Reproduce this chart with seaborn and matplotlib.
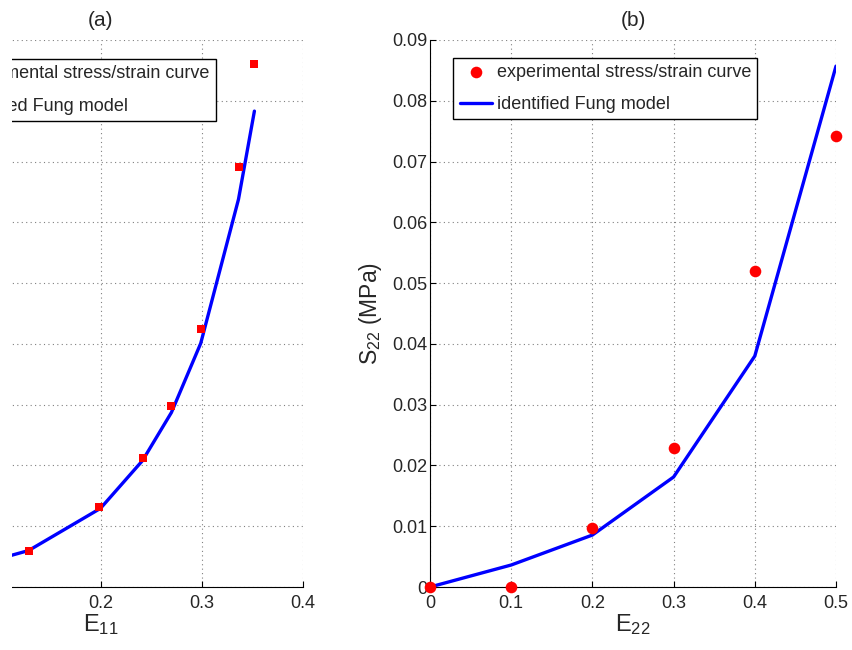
import matplotlib
matplotlib.use('Agg')
import matplotlib.pyplot as plt
import seaborn as sns
import pandas as pd
import numpy as np
from matplotlib.patches import Rectangle

sns.set_theme(style='white')
plt.rcParams['font.family'] = ['Liberation Sans', 'DejaVu Sans']
plt.rcParams['mathtext.fontset'] = 'custom'
plt.rcParams['mathtext.rm'] = 'Liberation Sans'
plt.rcParams['xtick.direction'] = 'in'
plt.rcParams['ytick.direction'] = 'in'

# (a) E11 / S11
e11_exp = [0.0, 0.129, 0.199, 0.2417, 0.270, 0.299, 0.3363, 0.352]
s11_exp = [0.0, 0.0060, 0.0131, 0.0212, 0.0298, 0.0424, 0.0691, 0.0860]
e11_fit = [0.0, 0.129, 0.200, 0.2415, 0.270, 0.299, 0.3363, 0.352]
s11_fit = [0.0, 0.0060, 0.01294, 0.0208, 0.0287, 0.0401, 0.0638, 0.0783]

# (b) E22 / S22
e22_exp = [0.0, 0.1, 0.2, 0.3, 0.4, 0.5]
s22_exp = [0.0, 0.0, 0.00975, 0.02286, 0.0520, 0.0742]
e22_fit = [0.0, 0.1, 0.2, 0.3, 0.4, 0.5]
s22_fit = [0.0, 0.00362, 0.00855, 0.0181, 0.0380, 0.0857]

lab_exp = 'experimental stress/strain curve'
lab_fit = 'identified Fung model'

fig = plt.figure(figsize=(8.53, 6.5), dpi=100)
ax1 = fig.add_axes([-102/853, 63/650, 405/853, 547/650])
ax2 = fig.add_axes([430/853, 63/650, 406/853, 547/650])


def style(ax, xmax, xticks):
    ax.set_xlim(0, xmax)
    ax.set_ylim(0, 0.09)
    ax.set_xticks(xticks)
    ax.set_xticklabels(['0' if t == 0 else f'{t:g}' for t in xticks])
    yt = np.round(np.arange(0, 0.091, 0.01), 2)
    ax.set_yticks(yt)
    ax.set_yticklabels(['0' if t == 0 else f'{t:g}' for t in yt])
    ax.grid(True, linestyle=(0, (1, 3)), color='#808080', linewidth=0.8)
    for s in ['top', 'right']:
        ax.spines[s].set_visible(False)
    for s in ['left', 'bottom']:
        ax.spines[s].set_color('black')
        ax.spines[s].set_linewidth(0.8)
    ax.tick_params(labelsize=13, length=4, width=0.8, color='black',
                   bottom=True, left=True)
    ax.tick_params(axis='x', pad=6)
    ax.tick_params(axis='y', pad=2)


sns.lineplot(x=e11_fit, y=s11_fit, ax=ax1, color='#0000ff', lw=2.4,
             label=lab_fit, sort=False, zorder=3)
sns.scatterplot(x=e11_exp, y=s11_exp, ax=ax1, color='#ff0000', marker='s',
                s=40, linewidth=0, label=lab_exp, zorder=4)
style(ax1, 0.4, [0, 0.1, 0.2, 0.3, 0.4])
ax1.set_title('(a)', fontsize=15, pad=10)
ax1.set_xlabel(r'$\mathregular{E_{11}}$', fontsize=17, labelpad=0)
ax1.set_ylabel(r'$\mathregular{S_{11}}$ (MPa)', fontsize=16.5)

sns.lineplot(x=e22_fit, y=s22_fit, ax=ax2, color='#0000ff', lw=2.4,
             label=lab_fit, sort=False, zorder=3)
sns.scatterplot(x=e22_exp, y=s22_exp, ax=ax2, color='#ff0000', marker='o',
                s=70, linewidth=0, label=lab_exp, zorder=4, clip_on=False)
style(ax2, 0.5, [0, 0.1, 0.2, 0.3, 0.4, 0.5])
ax2.set_title('(b)', fontsize=15, pad=10)
ax2.set_xlabel(r'$\mathregular{E_{22}}$', fontsize=17, labelpad=0)
ax2.set_ylabel(r'$\mathregular{S_{22}}$ (MPa)', fontsize=16.5, labelpad=6)


def legend(ax, loc, anchor):
    h, l = ax.get_legend_handles_labels()
    order = [l.index(lab_exp), l.index(lab_fit)]
    leg = ax.legend([h[i] for i in order], [l[i] for i in order], loc=loc,
                    bbox_to_anchor=anchor, borderaxespad=0, fontsize=13,
                    frameon=True, fancybox=False, framealpha=1,
                    edgecolor='black', handlelength=1.8, handletextpad=0.25,
                    borderpad=0.35, labelspacing=0.85)
    leg.get_frame().set_linewidth(1.0)


legend(ax1, 'upper right', (0.785, 0.965))
legend(ax2, 'upper left', (0.0574, 0.968))

# the reference is cropped on the left: blank strip over the hidden part
fig.add_artist(Rectangle((0, 0), 12.5/853, 1, transform=fig.transFigure,
                         facecolor='white', edgecolor='none', zorder=20))

fig.savefig('out.png', dpi=100)
